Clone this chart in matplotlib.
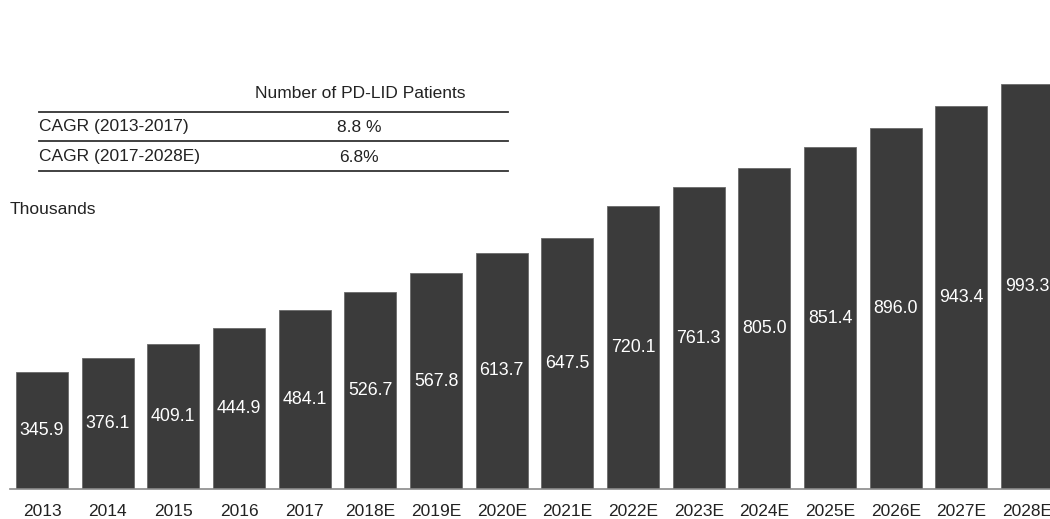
import matplotlib.pyplot as plt

plt.rcParams['font.family'] = ['Liberation Sans', 'DejaVu Sans']

years = ['2013', '2014', '2015', '2016', '2017', '2018E', '2019E', '2020E',
         '2021E', '2022E', '2023E', '2024E', '2025E', '2026E', '2027E', '2028E']
patients = [345.9, 376.1, 409.1, 444.9, 484.1, 526.7, 567.8, 613.7,
            647.5, 720.1, 761.3, 805.0, 851.4, 896.0, 943.4, 993.3]

cagr_labels = ['CAGR (2013-2017)', 'CAGR (2017-2028E)']
cagr_values = ['8.8 %', '6.8%']

YMIN = 82

fig = plt.figure(figsize=(10.5, 5.19), dpi=100)
ax = fig.add_axes([10 / 1050, 30 / 519, 1040 / 1050, 404.7 / 519])

x = range(len(years))
ax.bar(x, patients, width=0.79, color='#3b3b3b', edgecolor='#6a6a6a', linewidth=0.6)
for i, v in enumerate(patients):
    ax.text(i, (YMIN + v) / 2, f'{v:.1f}', color='white', ha='center', va='center',
            fontsize=12.8)

ax.set_xlim(-0.487, 15.35)
ax.set_ylim(YMIN, 993.3)
ax.set_xticks(list(x))
ax.set_xticklabels(years, fontsize=12.5, color='#222222')
ax.tick_params(axis='x', length=0, pad=10.5)
ax.set_yticks([])
for s in ['top', 'right', 'left']:
    ax.spines[s].set_visible(False)
ax.spines['bottom'].set_color('#8a8a8a')
ax.spines['bottom'].set_linewidth(1.2)

# CAGR table above the bars
def fx(px):
    return px / 1050

def fy(py):
    return 1 - py / 519

fig.text(fx(360), fy(94), 'Number of PD-LID Patients', ha='center', va='center',
         fontsize=12.5, color='#222222')
for py in [111.7, 141, 171]:
    fig.add_artist(plt.Line2D([fx(39), fx(508)], [fy(py), fy(py)], color='#333333',
                              linewidth=1.3))
for j, (lab, val) in enumerate(zip(cagr_labels, cagr_values)):
    yc = [127, 157][j]
    fig.text(fx(39), fy(yc), lab, ha='left', va='center', fontsize=12.5, color='#222222')
    fig.text(fx(359), fy(yc), val, ha='center', va='center', fontsize=12.5, color='#222222')

fig.text(fx(10), fy(210), 'Thousands', ha='left', va='center', fontsize=12.5,
         color='#222222')

fig.savefig('out.png', dpi=100)
